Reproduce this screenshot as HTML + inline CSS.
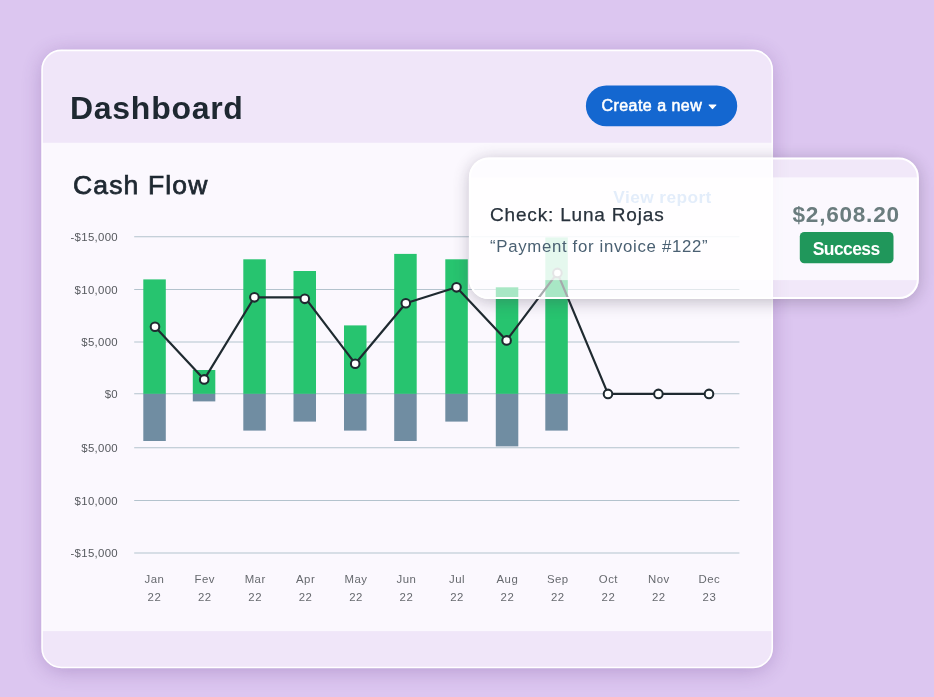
<!DOCTYPE html>
<html lang="en">
<head>
<meta charset="utf-8">
<title>Dashboard</title>
<style>
html,body{margin:0;padding:0;}
body{width:934px;height:697px;overflow:hidden;background:#dcc6f0;font-family:"Liberation Sans",sans-serif;}
svg{display:block;position:absolute;left:0;top:0;will-change:transform;}
text{font-family:"Liberation Sans",sans-serif;white-space:pre;}
.ylab{font-size:11.4px;fill:#56595e;letter-spacing:.32px;}
.xlab{font-size:11.4px;fill:#66696e;letter-spacing:.5px;}
</style>
</head>
<body>
<svg width="934" height="697" viewBox="0 0 934 697">
 <defs>
  <filter id="sh1" x="-10%" y="-10%" width="120%" height="125%"><feGaussianBlur stdDeviation="10.5"/></filter>
  <filter id="sh2" x="-10%" y="-40%" width="120%" height="190%"><feGaussianBlur stdDeviation="8.5"/></filter>
  <clipPath id="cc"><rect x="42" y="50.3" width="730.3" height="617.2" rx="19.3"/></clipPath>
  <mask id="pm" maskUnits="userSpaceOnUse" x="400" y="100" width="534" height="260"><rect x="400" y="100" width="534" height="260" fill="#fff"/><rect x="468.9" y="157.5" width="450" height="141.6" rx="20" fill="#000"/></mask>
  <clipPath id="pc"><rect x="469.9" y="158.5" width="448" height="139.6" rx="19"/></clipPath>
 </defs>
 <!-- card -->
 <rect x="43" y="54" width="728" height="616" rx="20" fill="#5a3282" opacity=".32" filter="url(#sh1)"/>
 <g clip-path="url(#cc)">
  <rect x="41" y="49" width="733" height="620" fill="#f0e6f9"/>
  <rect x="41" y="142.8" width="733" height="488.3" fill="#fbf8fe"/>
 </g>
 <rect x="42.05" y="50.35" width="730.2" height="617.1" rx="19.3" fill="none" stroke="#fff" stroke-width="1.6"/>
 <text x="70" y="118.8" font-size="32" font-weight="700" fill="#1e2831" letter-spacing=".72">Dashboard</text>
 <rect x="585.9" y="85.5" width="151.3" height="40.8" rx="20.4" fill="#1467d0"/>
 <text x="601.4" y="111.3" font-size="16" fill="#fff" stroke="#fff" stroke-width=".55" letter-spacing=".47">Create a new</text>
 <path d="M709 104.6h7q.7 0 .25.55l-3.15 3.7q-.6.6-1.2 0l-3.15-3.7q-.45-.55.25-.55z" fill="#fff"/>
 <text x="73" y="193.9" font-size="26.5" fill="#1e2831" stroke="#1e2831" stroke-width=".75" letter-spacing="1.15">Cash Flow</text>
 <text x="613.3" y="203" font-size="17.3" font-weight="700" fill="#1467d8" letter-spacing=".42">View report</text>

 <g stroke="#b3c3cd" stroke-width="1.1">
  <line x1="134.2" x2="739.4" y1="236.8" y2="236.8"/>
  <line x1="134.2" x2="739.4" y1="289.5" y2="289.5"/>
  <line x1="134.2" x2="739.4" y1="342.0" y2="342.0"/>
  <line x1="134.2" x2="739.4" y1="393.8" y2="393.8"/>
  <line x1="134.2" x2="739.4" y1="447.7" y2="447.7"/>
  <line x1="134.2" x2="739.4" y1="500.5" y2="500.5"/>
  <line x1="134.2" x2="739.4" y1="553.0" y2="553.0"/>
 </g>
 <g class="ylab" text-anchor="end">
  <text x="118" y="241.1">-$15,000</text>
  <text x="118" y="293.8">$10,000</text>
  <text x="118" y="346.3">$5,000</text>
  <text x="118" y="398.1">$0</text>
  <text x="118" y="452.0">$5,000</text>
  <text x="118" y="504.8">$10,000</text>
  <text x="118" y="557.3">-$15,000</text>
 </g>
 <g fill="#27c46f">
  <rect x="143.3" y="279.4" width="22.5" height="114.5"/>
  <rect x="192.8" y="370.0" width="22.5" height="23.9"/>
  <rect x="243.3" y="259.3" width="22.5" height="134.6"/>
  <rect x="293.5" y="271.0" width="22.5" height="122.9"/>
  <rect x="344.0" y="325.4" width="22.5" height="68.5"/>
  <rect x="394.2" y="253.9" width="22.5" height="140.0"/>
  <rect x="445.3" y="259.3" width="22.5" height="134.6"/>
  <rect x="495.8" y="287.3" width="22.5" height="106.6"/>
  <rect x="545.3" y="237.4" width="22.5" height="156.5"/>
 </g>
 <g fill="#708da2">
  <rect x="143.3" y="393.9" width="22.5" height="47.1"/>
  <rect x="192.8" y="393.9" width="22.5" height="7.5"/>
  <rect x="243.3" y="393.9" width="22.5" height="36.7"/>
  <rect x="293.5" y="393.9" width="22.5" height="27.7"/>
  <rect x="344.0" y="393.9" width="22.5" height="36.7"/>
  <rect x="394.2" y="393.9" width="22.5" height="47.1"/>
  <rect x="445.3" y="393.9" width="22.5" height="27.7"/>
  <rect x="495.8" y="393.9" width="22.5" height="52.5"/>
  <rect x="545.3" y="393.9" width="22.5" height="36.7"/>
 </g>
 <polyline fill="none" stroke="#1f2a30" stroke-width="2.2" stroke-linejoin="round" points="155,326.7 204.2,379.4 254.4,297.3 304.8,297.4 355.2,363.7 405.8,303.2 456.5,287.3 506.6,340.4 557.4,272.9 608,393.9 658.4,393.9 709,393.9"/>
 <g fill="#fff" stroke="#1f2a30" stroke-width="2.05">
  <circle cx="155" cy="326.7" r="4.3"/>
  <circle cx="204.2" cy="379.4" r="4.3"/>
  <circle cx="254.4" cy="297.3" r="4.3"/>
  <circle cx="304.8" cy="298.8" r="4.3"/>
  <circle cx="355.2" cy="363.7" r="4.3"/>
  <circle cx="405.8" cy="303.2" r="4.3"/>
  <circle cx="456.5" cy="287.3" r="4.3"/>
  <circle cx="506.6" cy="340.4" r="4.3"/>
  <circle cx="557.4" cy="272.9" r="4.3"/>
  <circle cx="608" cy="393.9" r="4.3"/>
  <circle cx="658.4" cy="393.9" r="4.3"/>
  <circle cx="709" cy="393.9" r="4.3"/>
 </g>
 <g class="xlab" text-anchor="middle">
  <text x="154.4" y="583.3">Jan</text><text x="154.4" y="601.3">22</text>
  <text x="204.8" y="583.3">Fev</text><text x="204.8" y="601.3">22</text>
  <text x="255.2" y="583.3">Mar</text><text x="255.2" y="601.3">22</text>
  <text x="305.6" y="583.3">Apr</text><text x="305.6" y="601.3">22</text>
  <text x="356.0" y="583.3">May</text><text x="356.0" y="601.3">22</text>
  <text x="406.4" y="583.3">Jun</text><text x="406.4" y="601.3">22</text>
  <text x="457.0" y="583.3">Jul</text><text x="457.0" y="601.3">22</text>
  <text x="507.4" y="583.3">Aug</text><text x="507.4" y="601.3">22</text>
  <text x="557.8" y="583.3">Sep</text><text x="557.8" y="601.3">22</text>
  <text x="608.4" y="583.3">Oct</text><text x="608.4" y="601.3">22</text>
  <text x="658.8" y="583.3">Nov</text><text x="658.8" y="601.3">22</text>
  <text x="709.4" y="583.3">Dec</text><text x="709.4" y="601.3">23</text>
 </g>

 <!-- popup -->
 <g mask="url(#pm)"><rect x="470" y="160.5" width="448" height="141" rx="20" fill="#40364e" opacity=".32" filter="url(#sh2)"/></g>
 <g clip-path="url(#pc)">
  <rect x="468" y="157" width="452" height="143" fill="#fff" fill-opacity=".6"/>
  <rect x="468" y="177.4" width="452" height="102.7" fill="#fff" fill-opacity=".7"/>
 </g>
 <rect x="469.9" y="158.5" width="448" height="139.6" rx="19" fill="none" stroke="#fff" stroke-width="2"/>
 <text x="490" y="220.5" font-size="19" fill="#28323c" stroke="#28323c" stroke-width=".25" letter-spacing=".82">Check: Luna Rojas</text>
 <text x="490" y="251.8" font-size="16.8" fill="#4a6072" letter-spacing=".68">“Payment for invoice #122”</text>
 <text x="792.5" y="222.1" font-size="22.6" font-weight="700" fill="#6a7c7e" letter-spacing=".75">$2,608.20</text>
 <rect x="799.8" y="232" width="93.7" height="31.2" rx="4.5" fill="#20975b"/>
 <text x="846.2" y="255.1" font-size="17.5" font-weight="700" fill="#fff" letter-spacing="-.6" text-anchor="middle">Success</text>
</svg>
</body>
</html>
